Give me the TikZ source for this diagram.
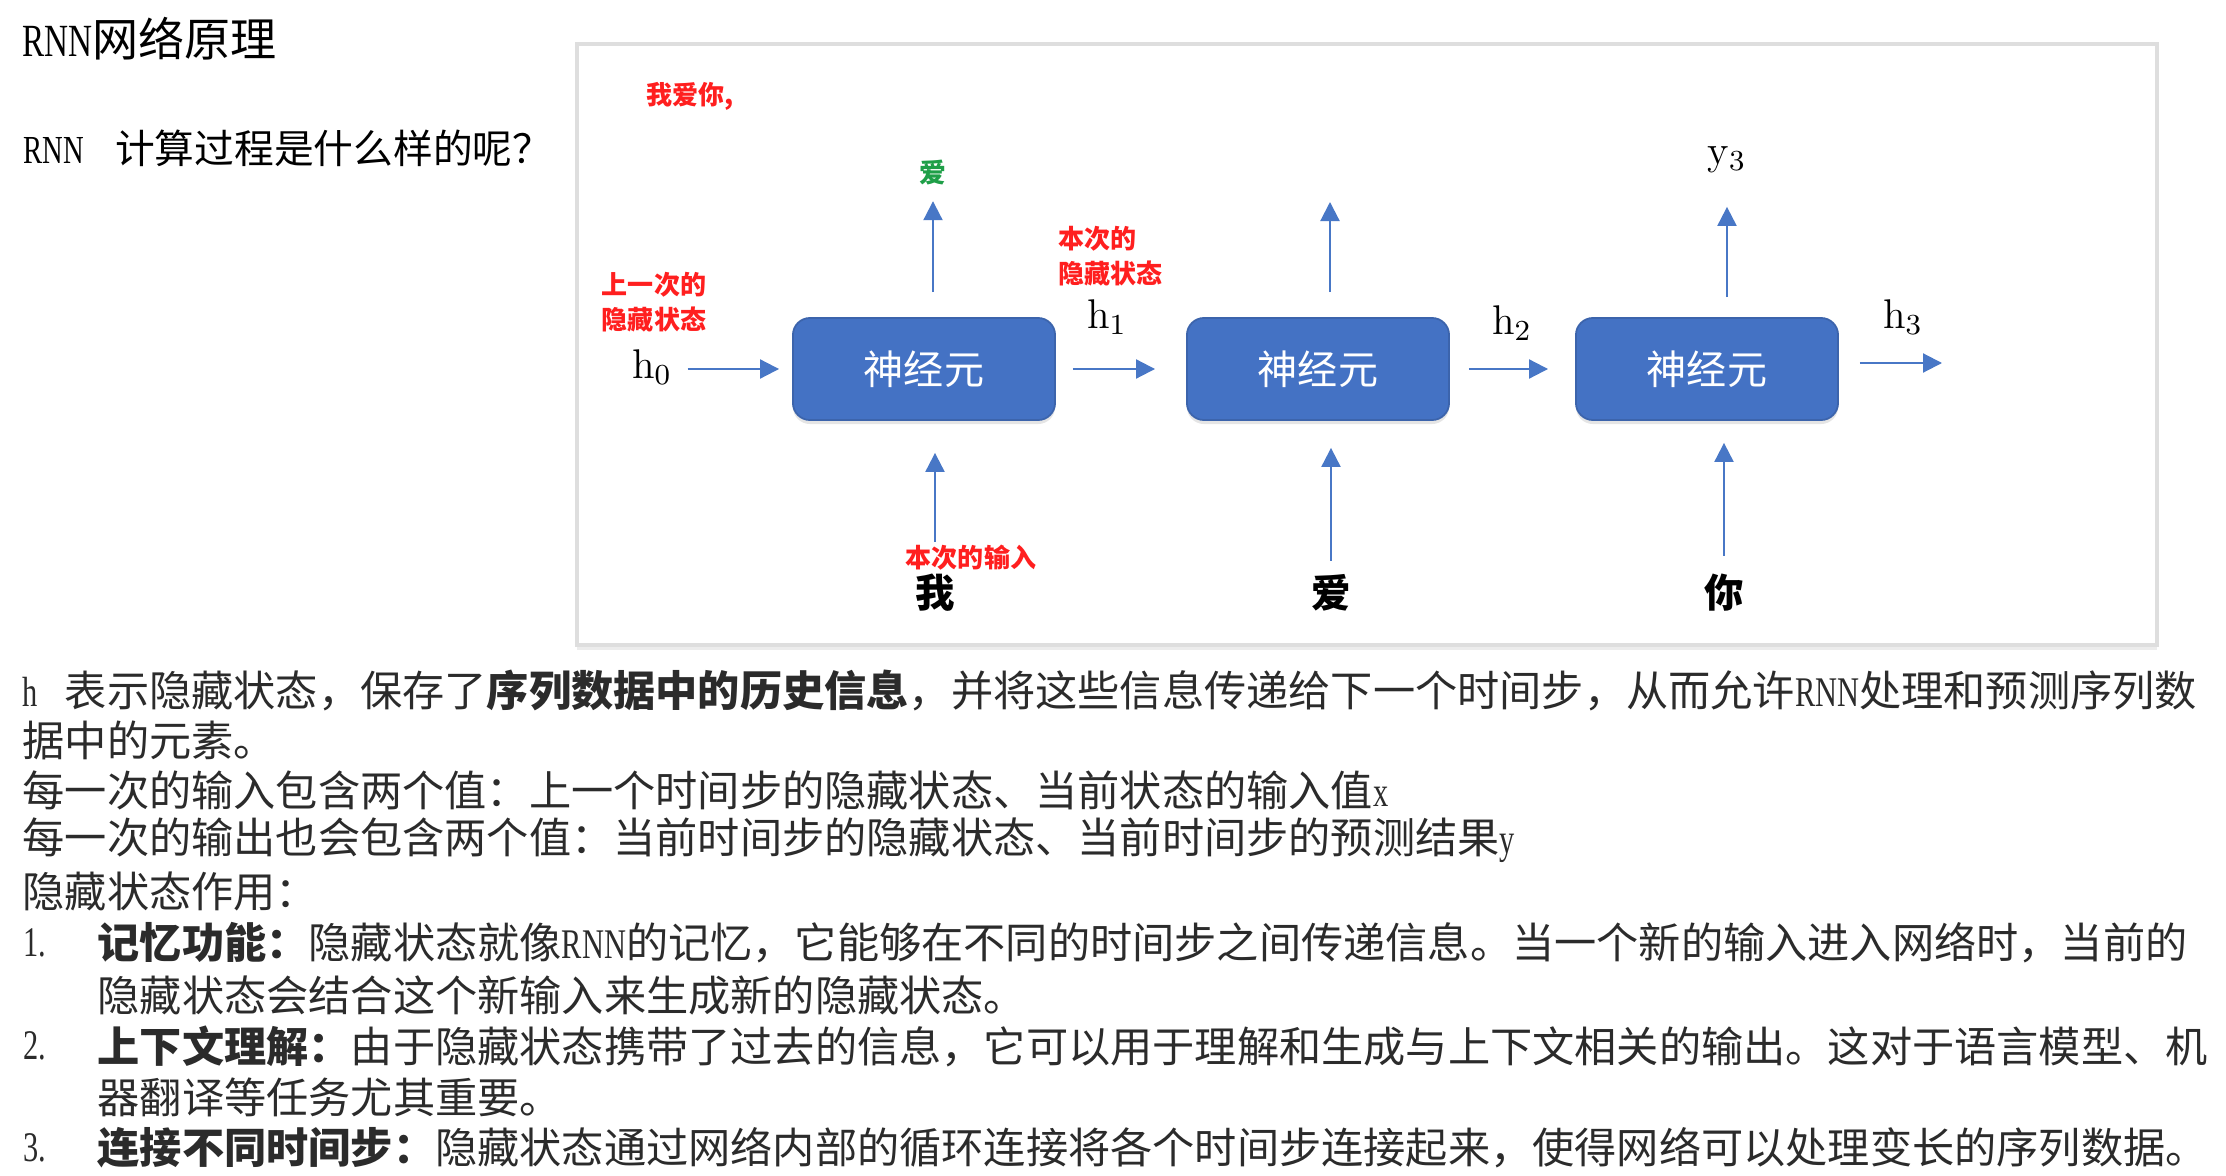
\documentclass[tikz,border=0pt]{standalone}
\usepackage{fix-cm}
\usepackage{fontspec}
\newfontfamily\cjk{Noto Sans CJK SC}
\newfontfamily\latn{Liberation Serif}[FakeStretch=0.72]
\newcommand{\en}[1]{{\latn #1}}
\usetikzlibrary{positioning, arrows.meta, shadows}

\definecolor{nblue}{HTML}{4472C4}
\definecolor{nedge}{HTML}{3C64AC}
\definecolor{flowblue}{HTML}{4877C6}
\definecolor{labred}{HTML}{FF1F1F}
\definecolor{higreen}{HTML}{1F9F48}
\definecolor{bodygray}{HTML}{2B2B2B}

\begin{document}
\begin{tikzpicture}[
  x=0.01cm, y=-0.01cm,
  >={Triangle[length=0.19cm, width=0.19cm]},
  neuron/.style={draw=nedge, fill=nblue, rounded corners=0.17cm,
                 minimum width=2.62cm, minimum height=1.02cm, line width=0.5pt,
                 text=white, font=\cjk\fontsize{11.4}{13}\selectfont,
                 drop shadow={opacity=0.2, shadow xshift=0pt, shadow yshift=-0.04cm}},
  flow/.style={->, draw=flowblue, line width=0.6pt},
  redlab/.style={inner sep=0pt, text=labred, font=\cjk\bfseries\fontsize{7.4}{10}\selectfont},
  hlab/.style={inner sep=0pt, font=\fontsize{11.8}{13}\selectfont},
  word/.style={inner sep=0pt, font=\cjk\bfseries\fontsize{11.2}{13}\selectfont},
  body/.style={anchor=west, inner sep=0pt, text=bodygray, font=\cjk\fontsize{12}{15}\selectfont},
]
\path[use as bounding box, fill=white] (0,0) rectangle (2226,1176);

% Heading
\node[anchor=west, inner sep=0pt, font=\cjk\fontsize{13.1}{15}\selectfont] (title) at (22,39) {\en{RNN}网络原理};
\node[anchor=west, inner sep=0pt, font=\cjk\fontsize{11.3}{14}\selectfont] (question) at (23,148) {\en{RNN}\hspace{0.31cm}计算过程是什么样的呢？};

% Panel
\path[draw=black!13, line width=1pt, fill=white,
  drop shadow={opacity=0.15, shadow xshift=0pt, shadow yshift=-0.05cm}] (577,44) rectangle (2157,645);

% Neurons
\foreach \i/\x in {1/924, 2/1318, 3/1707} {
  \node[neuron] (n\i) at (\x,369) {神经元};
}

% Hidden states
\node[hlab] (h0) at (652,367) {$\mathrm{h}_0$};
\draw[flow, shorten <=0.15cm, shorten >=0.13cm] (h0.east |- n1) -- (n1);
\node[hlab] (h1) at (1107,317) {$\mathrm{h}_1$};
\draw[flow, shorten <=0.17cm, shorten >=0.31cm] (n1) -- (n2);
\node[hlab] (h2) at (1512,323) {$\mathrm{h}_2$};
\draw[flow, shorten <=0.19cm, shorten >=0.27cm] (n2) -- (n3);
\node[hlab] (h3) at (1903,317) {$\mathrm{h}_3$};
\coordinate (h3end) at (1942,363);
\draw[flow, shorten <=0.21cm] (n3.east |- h3end) -- (h3end);

% Inputs
\foreach \i/\x/\w/\lo/\hi in {1/935/我/0.32/0.32, 2/1331/爱/0.13/0.27, 3/1724/你/0.18/0.22} {
  \node[word] (w\i) at (\x,593) {\w};
  \draw[flow, shorten <=\lo cm, shorten >=\hi cm] (w\i) -- (w\i |- n\i.south);
}

% Outputs
\node[inner sep=0pt, text=higreen, font=\cjk\bfseries\fontsize{7.6}{9}\selectfont] (y1) at (933,173) {爱};
\draw[flow, shorten <=0.25cm, shorten >=0.15cm] (y1 |- n1.north) -- (y1);
\coordinate (y2) at (1330,202);
\draw[flow, shorten <=0.25cm] (y2 |- n2.north) -- (y2);
\node[hlab] (y3) at (1727,160) {$\mathrm{y}_3$};
\draw[flow, shorten <=0.20cm, shorten >=0.33cm] (y3 |- n3.north) -- (y3);

% Red notes
\node[redlab] (sent) at (690,96) {我爱你,};
\node[redlab, align=center] (prevh) at (654,302) {上一次的\\隐藏状态};
\node[redlab, align=left, anchor=west] (curh) at (1058,256) {本次的\\隐藏状态};
\node[redlab] (curx) at (971,558) {本次的输入};

% Notes below the panel
\node[body] (l1) at (22,690) {\en{h}\hspace{0.27cm}表示隐藏状态，保存了{\bfseries 序列数据中的历史信息}，并将这些信息传递给下一个时间步，从而允许\en{RNN}处理和预测序列数};
\node[body] (l2) at (22,740) {据中的元素。};
\node[body] (l3) at (22,790) {每一次的输入包含两个值：上一个时间步的隐藏状态、当前状态的输入值\en{x}};
\node[body] (l4) at (22,840) {每一次的输出也会包含两个值：当前时间步的隐藏状态、当前时间步的预测结果\en{y}};
\node[body] (l5) at (22,891) {隐藏状态作用：};

% Numbered items
\foreach \k/\y in {1/943, 2/1046, 3/1148} {
  \node[body] (num\k) at (23,\y) {\en{\k.}};
}
\node[body] (i1a) at (97,943) {{\bfseries 记忆功能：}隐藏状态就像\en{RNN}的记忆，它能够在不同的时间步之间传递信息。当一个新的输入进入网络时，当前的};
\node[body] (i1b) at (97,995) {隐藏状态会结合这个新输入来生成新的隐藏状态。};
\node[body] (i2a) at (97,1046) {{\bfseries 上下文理解：}由于隐藏状态携带了过去的信息，它可以用于理解和生成与上下文相关的输出。这对于语言模型、机};
\node[body] (i2b) at (97,1097) {器翻译等任务尤其重要。};
\node[body] (i3a) at (97,1148) {{\bfseries 连接不同时间步：}隐藏状态通过网络内部的循环连接将各个时间步连接起来，使得网络可以处理变长的序列数据。};

\end{tikzpicture}
\end{document}
